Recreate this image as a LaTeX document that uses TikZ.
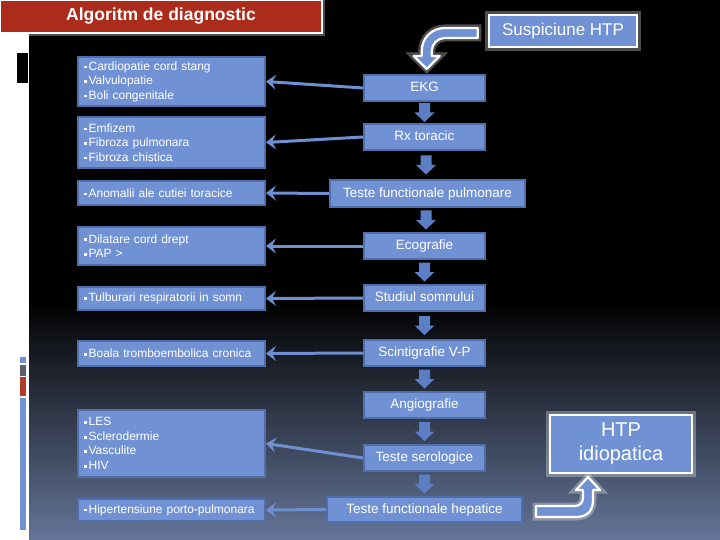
\documentclass[tikz,border=0pt]{standalone}
\usepackage{fontspec}
\setmainfont{Liberation Sans}
\usetikzlibrary{calc,arrows.meta}
\definecolor{boxfill}{RGB}{112,146,212}
\definecolor{boxline}{RGB}{80,110,170}
\definecolor{connc}{RGB}{110,143,208}
\definecolor{titlered}{RGB}{172,44,28}
\definecolor{bgbot}{RGB}{100,117,152}
\definecolor{arrc}{RGB}{92,126,196}
\definecolor{bargray}{RGB}{90,95,105}
\definecolor{barred}{RGB}{176,58,46}
\newcommand\mybul{\rule[1.8pt]{2.8pt}{2.8pt}\kern1.8pt}
\newcommand\dnarrow[2]{\fill[arrc, shift={($(#1.south)!0.5!(#2.north)$)}] (-5.5,-9.5) -- (5.5,-9.5) -- (5.5,0) -- (10,0) -- (0,9.5) -- (-10,0) -- (-5.5,0) -- cycle;}
\begin{document}
\begin{tikzpicture}[x=1pt,y=-1pt,
  lbox/.style={draw=boxline, line width=2pt, fill=boxfill, text=white, inner xsep=6pt, inner ysep=0pt, text width=175pt, align=left, minimum height=#1, font=\fontsize{12}{14.5}\selectfont},
  cbox/.style={draw=boxline, line width=2pt, fill=boxfill, text=white, inner sep=0pt, minimum width=#1, minimum height=26pt, text height=10pt, text depth=2.5pt, font=\fontsize{13.5}{16}\selectfont},
  wbox/.style={draw=white, line width=2.5pt, fill=boxfill, text=white, inner sep=0pt, preaction={draw=white, draw opacity=0.3, line width=8pt}},
  conn/.style={draw=connc, line width=3pt, -{Stealth[length=10pt,width=15pt,inset=4pt]}},
  bigarrow/.style={fill=boxfill, draw=white, line width=2.2pt, line join=round, preaction={draw=white, draw opacity=0.3, line width=7pt}}
]
\useasboundingbox (0,0) rectangle (720,540);
\fill[white] (0,0) rectangle (720,540);
% dark background
\fill[black] (29,0) rectangle (720,540);
\shade[top color=black, bottom color=bgbot] (29,300) rectangle (720,540);
% left decorations
\fill[black] (17,53) rectangle (28,83);
\fill[boxfill] (20,357) rectangle (26,363);
\fill[bargray] (20,365) rectangle (26,376);
\fill[barred] (20,377) rectangle (26,396);
\fill[boxfill] (20,398) rectangle (26,530);
% title
\node[draw=white, line width=2pt, fill=titlered, minimum width=322pt, minimum height=33pt, inner sep=0pt,
  text=white, font=\bfseries\fontsize{17.5}{20}\selectfont, preaction={draw=white, draw opacity=0.3, line width=6pt}]
  (title) at (161,16.5) {Algoritm de diagnostic};

% left boxes
\node[lbox=49pt] (b1) at (171.5,81.5) {\mybul Cardiopatie cord stang\\\mybul Valvulopatie\\\mybul Boli congenitale};
\node[lbox=51pt] (b2) at (171.5,142.5) {\mybul Emfizem\\\mybul Fibroza pulmonara\\\mybul Fibroza chistica};
\node[lbox=24pt] (b3) at (171.5,193) {\mybul Anomalii ale cutiei toracice};
\node[lbox=38pt] (b4) at (171.5,246) {\mybul Dilatare cord drept\\\mybul PAP >};
\node[lbox=23pt] (b5) at (171.5,298.5) {\mybul Tulburari respiratorii in somn};
\node[lbox=25pt] (b6) at (171.5,353.5) {\mybul Boala tromboembolica cronica};
\node[lbox=67pt] (b7) at (171.5,443.5) {\mybul LES\\\mybul Sclerodermie\\\mybul Vasculite\\\mybul HIV};
\node[lbox=22pt] (b8) at (171.5,510) {\mybul Hipertensiune porto-pulmonara};

% center boxes
\node[cbox=121pt] (ekg) at (424.5,88) {EKG};
\node[cbox=121pt] (rx) at (424.5,137) {Rx toracic};
\node[cbox=195pt, minimum height=27pt] (pulm) at (427.5,193.5) {Teste functionale pulmonare};
\node[cbox=121pt] (eco) at (424.5,246) {Ecografie};
\node[cbox=121pt] (som) at (424.5,298) {Studiul somnului};
\node[cbox=121pt] (scint) at (424.5,353) {Scintigrafie V-P};
\node[cbox=121pt] (angio) at (424.5,405) {Angiografie};
\node[cbox=121pt] (sero) at (424.5,458) {Teste serologice};
\node[cbox=195pt, minimum height=25pt] (hep) at (424.5,509.5) {Teste functionale hepatice};

% white-bordered boxes
\node[wbox, minimum width=148pt, minimum height=32pt, font=\fontsize{17}{20}\selectfont] (susp) at (563,31) {Suspiciune HTP};
\node[wbox, minimum width=142pt, minimum height=58pt, align=center, font=\fontsize{20}{24}\selectfont] (idio) at (621,444) {HTP\\idiopatica};

% down block arrows
\dnarrow{ekg}{rx}
\dnarrow{rx}{pulm}
\dnarrow{pulm}{eco}
\dnarrow{eco}{som}
\dnarrow{som}{scint}
\dnarrow{scint}{angio}
\dnarrow{angio}{sero}
\dnarrow{sero}{hep}

% connectors
\draw[conn] (ekg.west) -- (b1.east);
\draw[conn] (rx.west) -- (b2.east);
\draw[conn] (pulm.west) -- (b3.east);
\draw[conn] (eco.west) -- (b4.east);
\draw[conn] (som.west) -- (b5.east);
\draw[conn] (scint.west) -- (b6.east);
\draw[conn] (sero.west) -- (b7.east);
\draw[conn] (hep.west) -- (b8.east);

% big curved arrows
\draw[bigarrow, shift={(susp.west)}] (-10,-3) -- (-43,-3) .. controls (-56,-3) and (-66,7) .. (-66,20)
  -- (-66,25) -- (-74,25) -- (-61,38) -- (-48,25) -- (-56,25) -- (-56,20)
  .. controls (-56,13) and (-50,7) .. (-43,7) -- (-10,7) -- cycle;
\draw[bigarrow, shift={(hep.east)}] (13,7.5) -- (53,7.5) .. controls (65,7.5) and (70,0.5) .. (70,-9.5)
  -- (70,-19.5) -- (77,-19.5) -- (65,-32.5) -- (53,-19.5) -- (60,-19.5) -- (60,-11.5)
  .. controls (60,-6.5) and (56,-3.5) .. (52,-3.5) -- (13,-3.5) -- cycle;
\end{tikzpicture}
\end{document}
